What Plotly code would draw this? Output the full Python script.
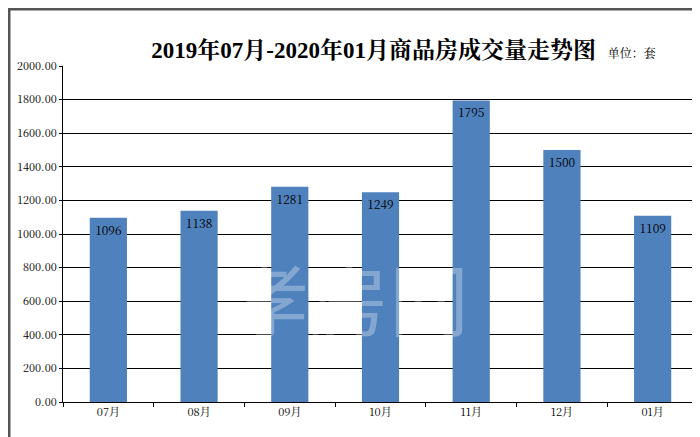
import plotly.graph_objects as go

months = ['07月', '08月', '09月', '10月', '11月', '12月', '01月']
volumes = [1096, 1138, 1281, 1249, 1795, 1500, 1109]
y_ticks = list(range(0, 2001, 200))

W, H = 700, 437
ml, mr, mt, mb = 55, 10, 58, 43
pw, ph = W - ml - mr, H - mt - mb
serif = 'SimSun, "Noto Serif CJK SC", "Liberation Serif", "Noto Sans CJK SC", serif'

fig = go.Figure(go.Bar(
    x=months, y=volumes, width=0.41,
    marker=dict(color='#4F81BD', line_width=0),
    text=[str(v) for v in volumes], textposition='inside', insidetextanchor='end',
    textangle=0, textfont=dict(color='black', size=12, family=serif),
))

fig.update_layout(
    width=W, height=H, margin=dict(l=ml, r=mr, t=mt, b=mb),
    plot_bgcolor='white', paper_bgcolor='white', showlegend=False,
    font=dict(family=serif, color='black', size=11),
    title=dict(text='<b>2019年07月-2020年01月商品房成交量走势图</b> <span style="font-size:12px">  单位：套</span>',
               x=0.565, xanchor='center', y=0.905, yanchor='middle',
               font=dict(size=23, color='black',
                         family='"Liberation Serif", "Noto Serif CJK SC", "Noto Sans CJK SC", serif')),
)
fig.update_yaxes(range=[0, 2000], tickvals=y_ticks, ticktext=[f'{v}.00' for v in y_ticks],
                 showgrid=True, gridcolor='black', gridwidth=1, zeroline=False,
                 showline=True, linecolor='black', ticks='outside', ticklen=3, tickcolor='black',
                 tickfont=dict(color='black'))
fig.update_xaxes(showline=True, linecolor='black', ticks='outside', ticklen=4, tickcolor='black',
                 tickson='boundaries', tickfont=dict(color='black'))

fig.add_annotation(text='孝房网', xref='paper', yref='paper', x=0.45, y=0.14, showarrow=False,
                   font=dict(size=80, color='rgba(255,255,255,0.3)', family='"Noto Sans CJK SC"'))
fig.add_shape(type='rect', xref='paper', yref='paper', line=dict(color='#555555', width=3),
              x0=-(ml - 1) / pw, x1=1 + (mr - 1) / pw, y0=-(mb - 1) / ph, y1=1 + (mt - 1) / ph)

fig.write_html('out.html')
